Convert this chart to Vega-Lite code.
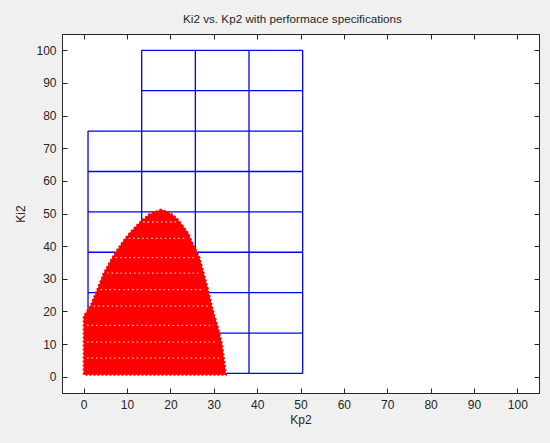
{
  "$schema": "https://vega.github.io/schema/vega-lite/v6.json",
  "width": 477,
  "height": 359,
  "autosize": "none",
  "padding": {"left": 62, "top": 34, "right": 11, "bottom": 50},
  "background": "#f0f0f0",
  "title": {"text": "Ki2 vs. Kp2 with performace specifications", "fontSize": 11.7, "font": "Liberation Sans", "fontWeight": "normal", "color": "#262626", "offset": 8, "dx": -8},
  "config": {
    "view": {"fill": "white", "stroke": "#262626", "strokeWidth": 1},
    "axis": {"grid": false, "domainColor": "#262626", "tickColor": "#262626", "labelColor": "#262626", "titleColor": "#262626", "labelFont": "Liberation Sans", "titleFont": "Liberation Sans", "labelFontSize": 12, "titleFontSize": 12, "titleFontWeight": "normal", "tickSize": -5, "labelPadding": 11, "values": [0,10,20,30,40,50,60,70,80,90,100]}
  },
  "datasets": {
    "grid": [
      {"x": 13.375, "x2": 50.5, "y": 100, "y2": 100},
      {"x": 13.375, "x2": 50.5, "y": 87.625, "y2": 87.625},
      {"x": 1, "x2": 50.5, "y": 75.25, "y2": 75.25},
      {"x": 1, "x2": 50.5, "y": 62.875, "y2": 62.875},
      {"x": 1, "x2": 50.5, "y": 50.5, "y2": 50.5},
      {"x": 1, "x2": 50.5, "y": 38.125, "y2": 38.125},
      {"x": 1, "x2": 50.5, "y": 25.75, "y2": 25.75},
      {"x": 1, "x2": 50.5, "y": 13.375, "y2": 13.375},
      {"x": 1, "x2": 50.5, "y": 1, "y2": 1},
      {"x": 1, "x2": 1, "y": 1, "y2": 75.25},
      {"x": 13.375, "x2": 13.375, "y": 1, "y2": 100},
      {"x": 25.75, "x2": 25.75, "y": 1, "y2": 100},
      {"x": 38.125, "x2": 38.125, "y": 1, "y2": 100},
      {"x": 50.5, "x2": 50.5, "y": 1, "y2": 100}
    ],
    "region": [
      {"ki": 0.6, "left": 0, "right": 32.8},
      {"ki": 5, "left": 0, "right": 32.4},
      {"ki": 10, "left": 0, "right": 31.9},
      {"ki": 15, "left": 0, "right": 31.0},
      {"ki": 18.5, "left": 0, "right": 30.2},
      {"ki": 21.5, "left": 1.5, "right": 29.6},
      {"ki": 26.6, "left": 3.1, "right": 28.7},
      {"ki": 31.7, "left": 4.6, "right": 27.7},
      {"ki": 36.5, "left": 6.6, "right": 26.7},
      {"ki": 39, "left": 7.8, "right": 25.8},
      {"ki": 42.4, "left": 9.6, "right": 24.6},
      {"ki": 44, "left": 10.6, "right": 24.1},
      {"ki": 46.7, "left": 12.5, "right": 22.6},
      {"ki": 48.5, "left": 14, "right": 21.5},
      {"ki": 49.7, "left": 15.0, "right": 20.4},
      {"ki": 50.5, "left": 16.5, "right": 19.2},
      {"ki": 51.2, "left": 17.9, "right": 17.9}
    ],
    "gaps": [
      {"ki": 5.7, "left": 0.8, "right": 31.4},
      {"ki": 10.6, "left": 0.8, "right": 30.9},
      {"ki": 15.7, "left": 0.8, "right": 30.0},
      {"ki": 21.6, "left": 2.3, "right": 28.7},
      {"ki": 26.7, "left": 3.9, "right": 27.8},
      {"ki": 31.7, "left": 5.4, "right": 26.8},
      {"ki": 36.5, "left": 7.4, "right": 25.8},
      {"ki": 42.4, "left": 10.4, "right": 23.6},
      {"ki": 47.4, "left": 13.7, "right": 21.4}
    ]
  },
  "layer": [
    {
      "data": {"name": "grid"},
      "mark": {"type": "rule", "color": "#0000ff", "strokeWidth": 1.3},
      "encoding": {
        "x": {"field": "x", "type": "quantitative", "scale": {"domain": [-5, 105], "nice": false, "zero": false}, "axis": {"title": "Kp2", "titlePadding": 4}},
        "x2": {"field": "x2"},
        "y": {"field": "y", "type": "quantitative", "scale": {"domain": [-5, 105], "nice": false, "zero": false}, "axis": {"title": "Ki2", "titlePadding": 8}},
        "y2": {"field": "y2"}
      }
    },
    {
      "data": {"name": "region"},
      "mark": {"type": "area", "orient": "horizontal", "color": "#ff0000", "stroke": "#ff0000", "strokeWidth": 2, "strokeDash": [2, 2]},
      "encoding": {
        "y": {"field": "ki", "type": "quantitative", "axis": null},
        "x": {"field": "left", "type": "quantitative", "axis": null},
        "x2": {"field": "right"}
      }
    },
    {
      "data": {"name": "gaps"},
      "mark": {"type": "rule", "color": "#ffffff", "strokeWidth": 1.3, "strokeDash": [1.5, 3], "opacity": 0.75},
      "encoding": {
        "y": {"field": "ki", "type": "quantitative", "axis": null},
        "x": {"field": "left", "type": "quantitative", "axis": null},
        "x2": {"field": "right"}
      }
    },
    {
      "data": {"values": [{"v": 0}]},
      "mark": {"type": "point", "opacity": 0},
      "encoding": {
        "x": {"field": "v", "type": "quantitative", "axis": {"orient": "top", "labels": false, "title": null}},
        "y": {"field": "v", "type": "quantitative", "axis": {"orient": "right", "labels": false, "title": null}}
      }
    }
  ],
  "resolve": {"axis": {"x": "independent", "y": "independent"}}
}
